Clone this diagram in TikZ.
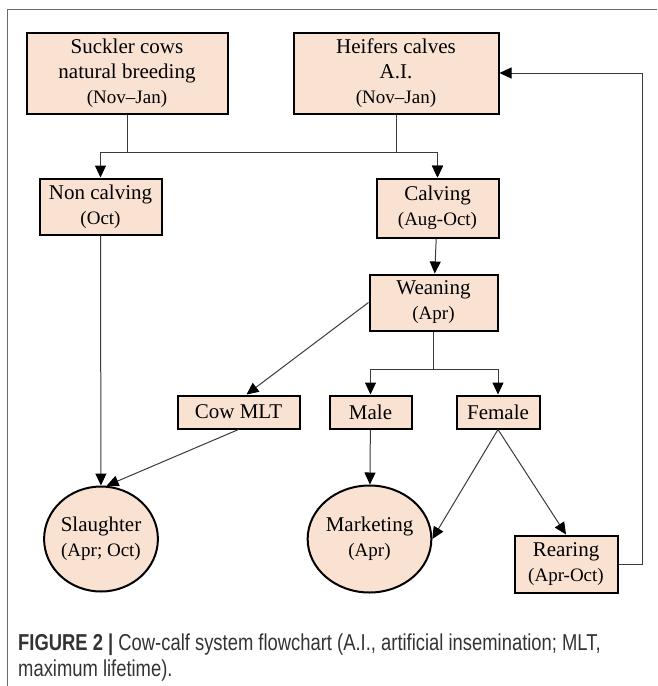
\documentclass[tikz,border=0pt]{standalone}
\usepackage{fontspec}
\setmainfont{Liberation Serif}
\newfontfamily\capfont[FakeStretch=0.8]{Liberation Sans}
\usetikzlibrary{arrows.meta,shapes.geometric,positioning}
\definecolor{peach}{HTML}{FAE2D3}
\definecolor{linkgray}{HTML}{3A3A3A}
\definecolor{framegray}{HTML}{6A6A6A}
\definecolor{captext}{HTML}{333333}
\newcommand{\when}[1]{{\fontsize{19}{25}\selectfont(#1)}}
\tikzset{
    %Define standard arrow tip
    >={Triangle[length=12pt,width=11pt,color=black]},
    %Define style for boxes
    stage/.style={
           rectangle,
           draw=black, line width=2pt,
           fill=peach,
           inner sep=0pt,
           align=center,
           font=\fontsize{21}{25}\selectfont},
    ending/.style={
           ellipse,
           draw=black, line width=2pt,
           fill=peach,
           inner sep=0pt,
           align=center,
           font=\fontsize{21}{25}\selectfont},
    % Define arrow style
    link/.style={
           ->,
           draw=linkgray,
           line width=1pt}
}
\begin{document}
\begin{tikzpicture}[x=1pt,y=-1pt]
\useasboundingbox (0,0) rectangle (657,686);

 %frame
\draw[framegray, line width=1pt] (7,686) -- (7,9) -- (657,9);

 %nodes
\node[stage, minimum width=201, minimum height=81](suckler) at (127,73){Suckler cows\\natural breeding\\\when{Nov--Jan}};
\node[stage, minimum width=205, minimum height=81](heifers) at (396,73){Heifers calves\\A.I.\\\when{Nov--Jan}};
\node[stage, minimum width=122, minimum height=56](noncalv) at (100.5,206.5){Non calving\\\when{Oct}};
\node[stage, minimum width=122, minimum height=59](calving) at (437.5,208){Calving\\\when{Aug-Oct}};
\node[stage, minimum width=128, minimum height=56](weaning) at (433.5,302.5){Weaning\\\when{Apr}};
\node[stage, minimum width=122, minimum height=33](cowmlt) at (238.5,412){Cow MLT};
\node[stage, minimum width=82, minimum height=33](male) at (370.5,412){Male};
\node[stage, minimum width=83, minimum height=33](female) at (498,412){Female};
\node[ending, minimum width=113, minimum height=105](slaughter) at (101,539){Slaughter\\\when{Apr; Oct}};
\node[ending, minimum width=112, minimum height=107](marketing) at (369.5,539){Marketing\\\when{Apr}};
\node[stage, minimum width=103, minimum height=57](rearing) at (566,564){Rearing\\\when{Apr-Oct}};

 %connectors
\draw[link] (suckler.south) -- ++(0,38) -| (noncalv.north);
\draw[link] (suckler.south) -- ++(0,38) -| (calving.north);
\draw[link] (heifers.south) -- ++(0,38) -| (calving.north);
\draw[link] (calving) -- (weaning);
\draw[link] (weaning.west) -- ([xshift=8pt]cowmlt.north);
\draw[link] (weaning.south) -- ++(0,38) -| (male.north);
\draw[link] (weaning.south) -- ++(0,38) -| (female.north);
\draw[link] (noncalv) -- (slaughter);
\draw[link] (cowmlt.south) -- (slaughter.84);
\draw[link] (male) -- (marketing);
\draw[link] (female.south) -- (marketing.east);
\draw[link] (female.south) -- (rearing.north);
\draw[link] (rearing.east) -- ++(24,0) |- (heifers.east);

 %caption
\node[anchor=west, inner sep=0pt, align=left, text=captext,
      font=\capfont\fontsize{23}{26}\selectfont](caption) at (18,657.5)
      {\textbf{FIGURE 2 |} Cow-calf system flowchart (A.I., artificial insemination; MLT,\\maximum lifetime).};
\end{tikzpicture}
\end{document}
